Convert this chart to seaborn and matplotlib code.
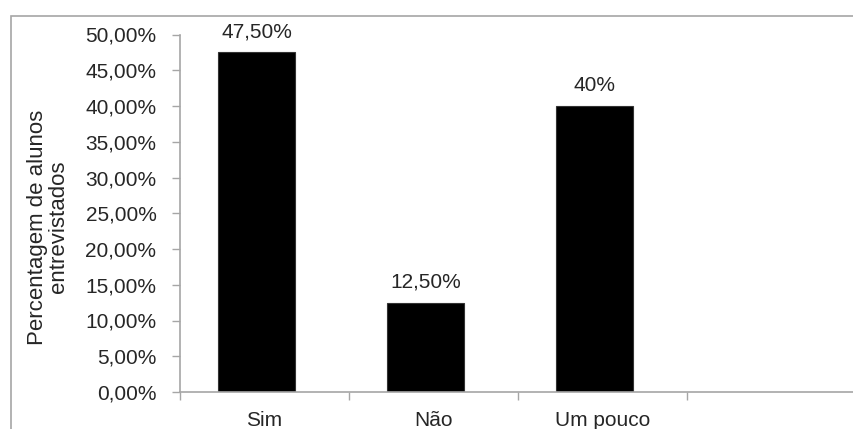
import matplotlib
matplotlib.use("Agg")
import matplotlib.pyplot as plt
import seaborn as sns
import numpy as np
from matplotlib.patches import Rectangle

# Dados
categorias = ["Sim", "Não", "Um pouco"]
valores = [47.5, 12.5, 40.0]
rotulos = ["47,50%", "12,50%", "40%"]
yticks = [0, 5, 10, 15, 20, 25, 30, 35, 40, 45, 50]

sns.set_style("white")
plt.rcParams["font.family"] = ["Liberation Sans", "DejaVu Sans"]

fig = plt.figure(figsize=(8.54, 4.29), dpi=100)
ax = fig.add_axes([180 / 854, 1 - 392 / 429, 1 - 180 / 854, (392 - 34.5) / 429])

sns.barplot(x=categorias, y=valores, color="black", saturation=1, width=0.456,
            edgecolor="#333333", linewidth=0.8, ax=ax)

# valores acima das barras
for i, (v, t) in enumerate(zip(valores, rotulos)):
    ax.annotate(t, (i, v), xytext=(0, 8), textcoords="offset points",
                ha="center", va="bottom", fontsize=15, color="#262626")

ax.set_xlim(-0.453, 3.535)
ax.set_ylim(0, 50)
ax.set_yticks(yticks)
ax.set_yticklabels([f"{t:.2f}%".replace(".", ",") for t in yticks])

# rótulos centrados nas categorias, marcas entre categorias
ax.set_xticks([i + 0.047 for i in range(3)])
ax.set_xticklabels(categorias)
ax.set_xticks([-0.453, 0.547, 1.547, 2.547], minor=True)
ax.tick_params(axis="x", which="major", length=0, pad=14, labelsize=15, labelcolor="#262626")
ax.tick_params(axis="x", which="minor", length=6, width=1, color="#a6a6a6", direction="out", bottom=True)
ax.tick_params(axis="y", length=6, width=1, color="#a6a6a6", direction="out", left=True,
               pad=11, labelsize=15, labelcolor="#262626")

for s in ["top", "right"]:
    ax.spines[s].set_visible(False)
for s in ["left", "bottom"]:
    ax.spines[s].set_color("#a6a6a6")
    ax.spines[s].set_linewidth(1.2)

ax.set_xlabel("")
ax.set_ylabel("")
fig.text(48 / 854, 1 - 227 / 429, "Percentagem de alunos\nentrevistados", rotation=90,
         ha="center", va="center", multialignment="center", fontsize=16, color="#262626",
         linespacing=1.0)

# moldura externa
fig.add_artist(Rectangle((11 / 854, -0.5), 2, 1 - 15.5 / 429 + 0.5, transform=fig.transFigure,
                         fill=False, edgecolor="#a6a6a6", linewidth=1.2))

fig.savefig("out.png", dpi=100)
